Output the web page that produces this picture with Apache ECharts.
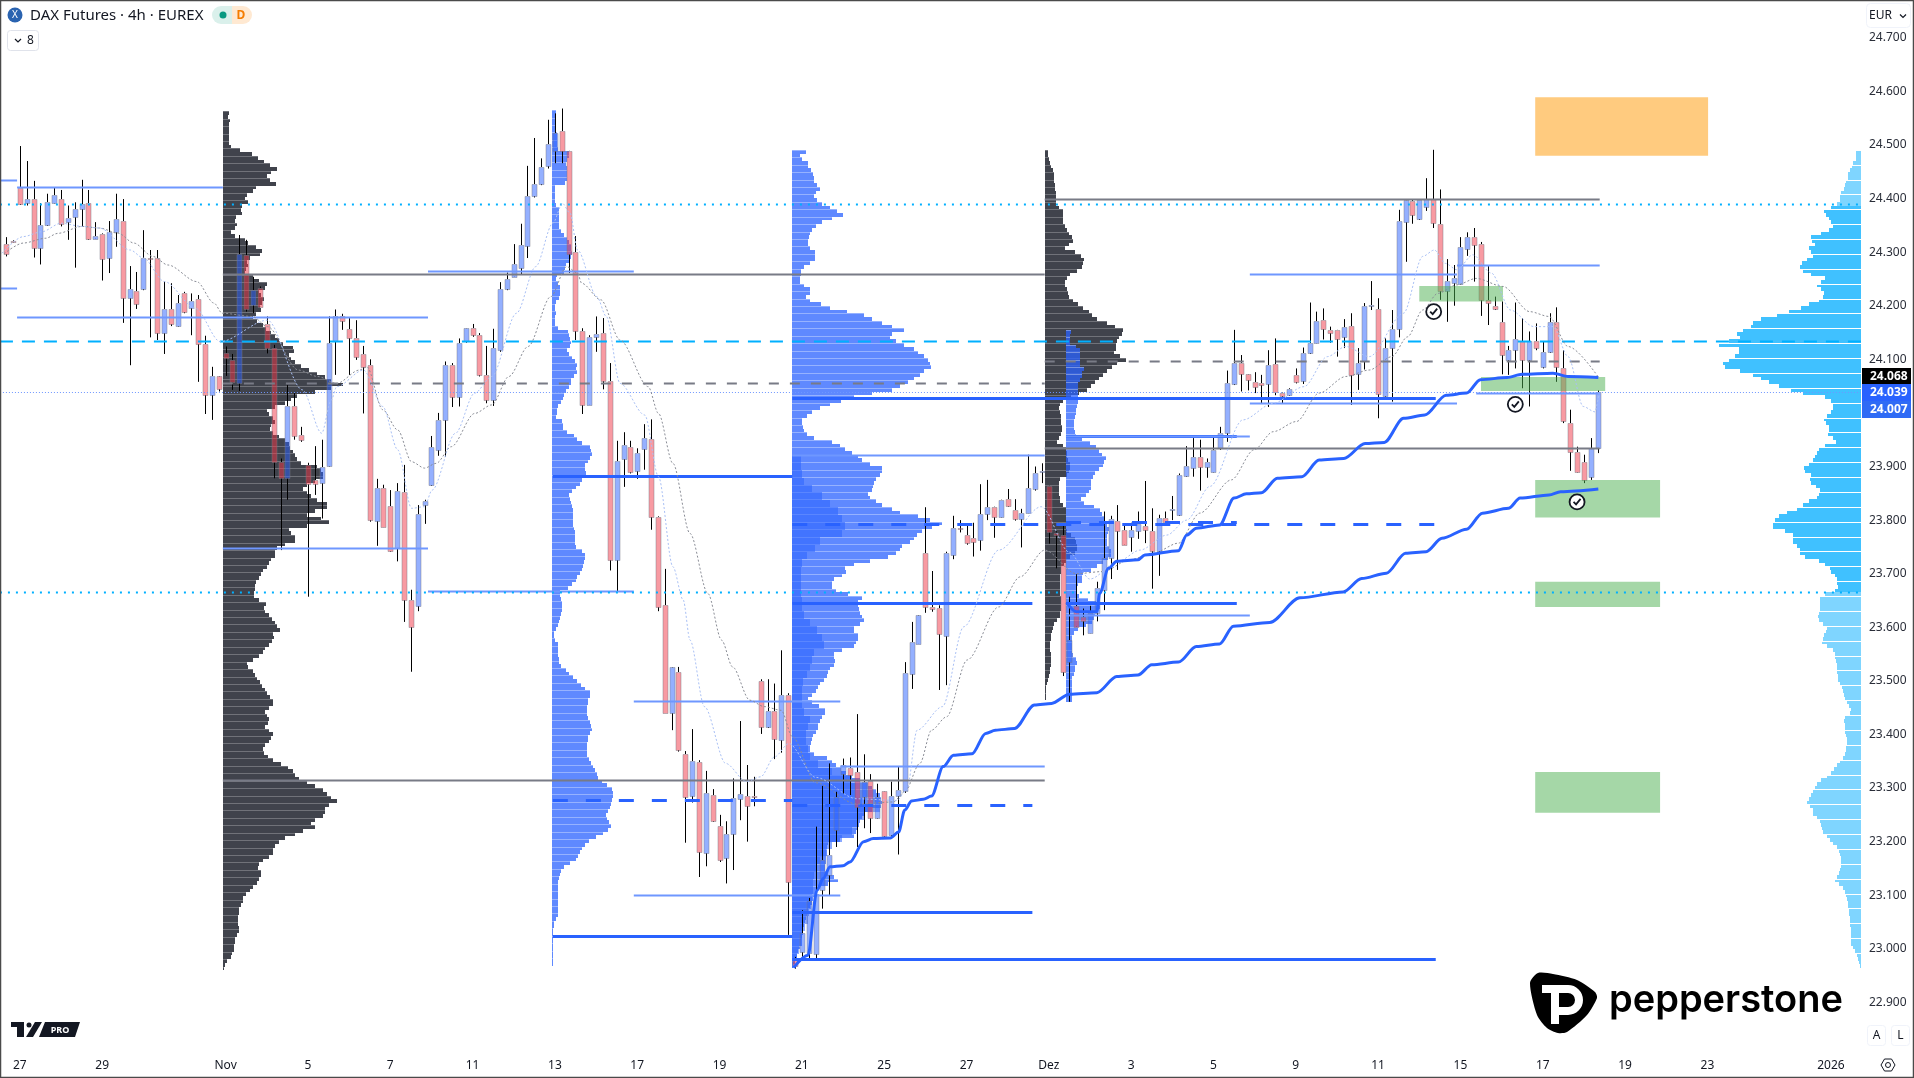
<!DOCTYPE html>
<html>
<head>
<meta charset="utf-8">
<title>DAX Futures 4h</title>
<script src="https://cdn.jsdelivr.net/npm/echarts@6/dist/echarts.min.js"></script>
<style>
  html, body { margin: 0; padding: 0; background: #fff; }
  #chart { width: 1914px; height: 1078px; }
</style>
</head>
<body>
<div id="chart"></div>
<script>
// 4h candles, one row per bar: open, high, low, close
const candles = [
[24315,24328,24292,24297],[24320,24322,24318,24319],[24420,24498,24388,24390],[24392,24470,24387,24399],[24399,24433,24290,24307],[24308,24391,24277,24350],[24350,24409,24349,24393],[24392,24421,24391,24406],[24400,24416,24348,24353],[24356,24387,24323,24363],
[24365,24393,24271,24380],[24381,24435,24347,24389],[24391,24416,24323,24324],[24325,24356,24325,24331],[24333,24335,24247,24287],[24289,24358,24261,24338],[24337,24409,24310,24361],[24358,24399,24168,24215],[24215,24274,24089,24231],[24227,24263,24194,24204],
[24231,24341,24229,24289],[24290,24304,24141,24289],[24289,24304,24136,24150],[24150,24245,24110,24193],[24193,24242,24162,24165],[24162,24220,24161,24205],[24223,24226,24186,24189],[24195,24223,24145,24209],[24212,24220,24058,24129],[24129,24144,23998,24033],
[24033,24086,23987,24068],[24068,24068,24040,24045],[24112,24124,24069,24102],[24099,24110,24043,24057],[24055,24332,24041,24296],[24295,24323,24189,24193],[24201,24254,24186,24229],[24233,24236,24198,24198],[24166,24180,24111,24122],[24122,24127,23878,23909],
[23909,23915,23744,23878],[23878,24052,23838,24012],[24012,24037,23950,23957],[23959,23974,23946,23950],[23903,23907,23657,23867],[23875,23938,23847,23867],[23870,23950,23803,23900],[23901,24180,23900,24130],[24135,24193,24071,24180],[24180,24185,24155,24172],
[24156,24177,24071,24140],[24139,24173,24099,24104],[24110,24125,23999,24085],[24089,24100,23797,23800],[23799,23877,23752,23859],[23859,23866,23787,23788],[23826,23856,23741,23743],[23747,23869,23723,23854],[23852,23903,23610,23650],[23650,23670,23517,23600],
[23640,23828,23630,23811],[23828,23838,23793,23836],[23866,23957,23864,23936],[23931,24000,23920,23987],[23987,24096,23918,24089],[24089,24093,24011,24030],[24030,24139,24012,24130],[24135,24158,24131,24158],[24158,24166,24142,24145],[24145,24149,24068,24071],
[24071,24125,24018,24024],[24024,24157,24013,24121],[24118,24244,24114,24231],[24231,24262,24229,24249],[24254,24315,24254,24278],[24270,24353,24259,24313],[24312,24461,24289,24405],[24404,24513,24402,24427],[24427,24475,24425,24458],[24461,24547,24456,24502],
[24488,24559,24466,24522],[24526,24568,24466,24488],[24488,24489,24261,24297],[24300,24330,24136,24152],[24153,24158,23998,24015],[24015,24145,24015,24142],[24142,24180,24114,24147],[24149,24177,24044,24060],[24060,24093,23706,23726],[23726,23948,23667,23910],
[23914,23964,23862,23940],[23936,23948,23887,23889],[23891,23934,23877,23926],[23933,23979,23894,23953],[23951,23988,23782,23805],[23805,23807,23630,23638],[23641,23709,23440,23440],[23440,23525,23408,23525],[23516,23526,23368,23371],[23363,23369,23198,23284],
[23285,23410,23273,23350],[23348,23352,23134,23181],[23179,23332,23154,23290],[23287,23298,23237,23239],[23229,23250,23162,23166],[23169,23238,23122,23214],[23215,23318,23147,23282],[23280,23425,23240,23288],[23286,23343,23200,23266],[23285,23321,23266,23283],
[23500,23503,23401,23413],[23414,23503,23412,23444],[23444,23495,23354,23391],[23389,23557,23366,23473],[23473,23477,23026,23125],[22979,22985,22963,22968],[22995,23072,22985,23030],[22992,23095,22979,23090],[22991,23228,22982,23103],[23109,23304,23075,23165],
[23137,23346,23100,23175],[23221,23293,23190,23283],[23326,23355,23290,23343],[23338,23357,23287,23325],[23330,23438,23190,23265],[23284,23363,23225,23312],[23313,23326,23216,23245],[23245,23308,23243,23284],[23294,23294,23209,23210],[23212,23312,23210,23286],
[23285,23340,23176,23296],[23295,23535,23291,23514],[23513,23610,23485,23572],[23569,23622,23569,23622],[23738,23824,23627,23638],[23637,23705,23629,23634],[23636,23641,23483,23588],[23584,23741,23492,23739],[23735,23808,23727,23785],[23786,23800,23777,23785],
[23772,23789,23754,23758],[23767,23795,23732,23760],[23762,23867,23743,23811],[23812,23875,23800,23825],[23824,23825,23767,23806],[23806,23838,23805,23838],[23839,23858,23825,23827],[23819,23839,23799,23802],[23802,23821,23749,23813],[23814,23922,23813,23859],
[23858,23900,23855,23887],[23889,23906,23869,23891],[23864,23864,23756,23777],[23775,23779,23710,23772],[23772,23794,23509,23517],[23536,23657,23461,23576],[23639,23699,23601,23601],[23620,23635,23585,23611],[23590,23640,23589,23626],[23626,23685,23611,23673],
[23670,23816,23632,23729],[23729,23808,23690,23802],[23798,23828,23707,23780],[23781,23794,23754,23754],[23769,23795,23741,23781],[23780,23816,23765,23792],[23789,23873,23757,23781],[23780,23822,23672,23743],[23743,23810,23696,23803],[23803,23816,23790,23797],
[23818,23845,23800,23820],[23810,23887,23808,23885],[23882,23938,23881,23901],[23898,23953,23881,23917],[23917,23950,23855,23900],[23900,23915,23879,23908],[23890,23956,23889,23931],[23934,23974,23931,23963],[23963,24079,23946,24055],[24054,24155,24052,24094],
[24093,24108,24040,24073],[24072,24072,24042,24062],[24057,24076,24037,24049],[24055,24071,24018,24053],[24054,24117,24011,24089],[24091,24139,24033,24039],[24038,24038,24018,24032],[24033,24046,24032,24044],[24071,24083,24055,24058],[24060,24122,24054,24111],
[24112,24206,24110,24130],[24131,24189,24130,24172],[24173,24195,24137,24157],[24155,24161,24131,24150],[24154,24155,24105,24137],[24141,24175,24121,24161],[24163,24186,24015,24071],[24073,24121,24043,24094],[24096,24205,24081,24199],[24200,24246,24192,24201],
[24193,24214,23990,24035],[24032,24139,24030,24121],[24122,24192,24021,24156],[24157,24379,24141,24359],[24357,24397,24282,24397],[24396,24399,24353,24369],[24362,24399,24360,24397],[24385,24438,24377,24399],[24400,24491,24345,24355],[24352,24417,24211,24228],
[24228,24287,24170,24246],[24242,24276,24200,24251],[24241,24328,24239,24309],[24305,24337,24293,24328],[24329,24345,24245,24314],[24315,24319,24181,24211],[24211,24274,24164,24205],[24200,24217,24192,24193],[24169,24208,24072,24109],[24099,24125,24071,24117],
[24117,24206,24083,24137],[24134,24177,24046,24098],[24099,24152,24012,24134],[24134,24167,24117,24121],[24085,24133,24083,24113],[24114,24186,24112,24169],[24169,24197,24058,24085],[24083,24117,23981,23984],[23982,24006,23892,23928],[23928,23937,23889,23890],
[23908,23922,23869,23875],[23881,23953,23875,23934],[23934,24042,23925,24039]
]

// tick labels
const priceTicks = [22900,23000,23100,23200,23300,23400,23500,23600,23700,23800,23900,24000,24100,24200,24300,24400,24500,24600,24700]
const dateTickBars = [2,14,32,44,56,68,80,92,104,116,128,140,152,164,176,188,200,212,224,236,248,266]
const dateTickLabels = ['27','29','Nov','5','7','11','13','17','19','21','25','27','Dez','3','5','9','11','15','17','19','23','2026']

// volume profiles, one value per price row from the top down
const volNov1 = [6,5,7,6,6,6,6,6,6,8,17,29,35,41,47,54,48,44,47,53,33,30,24,22,25,19,18,19,13,12,14,12,8,12,22,25,33,39,37,27,24,25,23,22,30,36,44,42,36,38,41,39,37,38,33,30,34,40,43,48,52,56,60,70,71,66,68,72,78,86,94,102,108,120,108,92,74,68,62,52,44,46,50,52,48,47,50,56,62,66,67,70,72,74,78,94,98,100,100,92,84,80,84,88,94,104,104,92,84,98,106,84,66,68,72,72,62,54,52,52,48,46,44,40,38,36,33,32,32,31,31,
36,43,41,42,46,49,52,54,57,50,51,49,46,42,40,36,30,24,25,30,32,34,37,39,42,44,47,50,50,46,42,44,46,45,42,46,50,48,46,42,40,41,45,50,58,65,70,72,76,84,92,100,104,108,114,106,102,102,100,92,88,92,80,72,62,56,52,50,50,46,40,36,35,38,38,36,34,30,27,23,20,20,18,16,16,15,15,15,16,16,14,12,12,11,11,9,8,4,2,1]
const volNov13 = [4,4,4,4,4,4,5,5,5,5,6,17,17,15,14,15,15,15,15,13,3,3,3,3,3,4,7,7,7,7,7,7,9,12,15,17,19,19,20,19,17,14,13,12,5,4,6,8,8,8,7,4,3,3,4,3,3,3,6,16,17,18,19,18,15,17,20,23,25,24,25,22,19,19,17,14,12,11,9,6,5,5,4,10,11,11,15,22,25,30,38,39,40,38,36,33,33,34,36,30,28,24,20,17,18,19,20,21,21,21,21,21,22,23,23,23,23,24,30,33,33,32,31,30,28,25,24,20,16,
8,8,9,10,10,10,9,8,7,6,4,2,2,3,6,6,6,6,7,7,9,14,17,21,25,29,33,38,38,36,36,35,35,35,36,38,39,40,38,36,36,35,35,35,35,37,39,41,43,45,46,50,55,60,61,61,60,59,58,56,54,55,57,59,56,51,44,37,33,30,28,26,24,18,12,9,8,7,6,6,6,6,6,6,6,6,6,6,4,2,1.5,1,1,1,1,1,1,1,1,1,1]
const volNov21 = [14,8,10,16,16,19,21,22,22,25,28,24,22,25,30,38,45,51,40,30,24,20,18,17,16,16,18,23,23,23,18,12,9,9,8,8,12,18,18,14,18,29,38,55,72,80,90,100,112,100,98,104,112,122,126,132,136,138,139,132,128,122,116,108,100,80,62,49,38,28,20,15,10,10,11,12,15,22,40,48,53,60,66,70,78,90,90,88,84,82,81,80,76,78,84,90,100,108,126,138,150,140,130,125,122,118,110,108,104,96,78,62,53,54,50,42,40,40,44,56,
70,66,66,67,68,70,72,68,62,62,66,66,64,62,50,42,42,43,42,38,36,35,32,28,26,24,20,16,20,27,33,33,30,28,26,26,24,21,20,19,18,18,22,35,40,44,49,54,60,68,76,80,84,88,89,90,89,80,72,70,68,67,66,64,62,48,36,35,35,35,34,34,33,33,36,42,46,36,26,24,22,21,20,18,16,15,14,13,12,11,11,10,10,10,8,6,5,5,3,1]
const volNov21Inner = [9,9,10,12,20,30,38,46,50,53,50,28,23,15,10,9,9,9,9,10,10,12,18,25,30,32,22,20,18,15,11,10,10,10,12,18,16,14,14,16,18,26,40,58,64,64,70,88,72,66,60,50,40,34,28,24,22,21,21,20,19,17,16,13,10,9,7,5,3]
const volDec1 = [3,3,4,5,6,8,9,9,9,10,10,11,11,11,11,14,18,18,18,18,20,22,24,27,28,24,20,30,36,39,38,37,32,25,22,20,20,22,23,24,28,33,38,44,47,52,62,70,78,77,74,72,71,71,69,75,81,72,67,62,58,54,50,46,42,34,26,18,15,14,15,16,16,16,17,17,16,14,12,18,21,22,22,23,25,25,24,22,15,
14,14,14,14,15,15,18,21,21,21,21,21,21,22,26,30,31,32,32,30,25,21,19,16,16,15,15,15,15,15,15,16,16,16,16,15,15,12,9,8,7,6,6,5,5,5,6,6,6,6,5,5,4,3,2,1,1,1,1]
const volDec2 = [5,4,4,4,10,14,14,14,14,14,18,16,16,14,12,12,12,12,12,12,11,10,10,9,8,8,8,9,10,16,24,30,33,36,40,38,37,33,29,27,25,25,25,23,20,15,18,28,34,36,38,39,41,43,42,41,41,41,43,45,45,42,37,31,25,17,16,16,12,11,11,13,22,30,34,31,29,28,26,20,12,8,6,6,6,6,6,7,10,11,9,9,8,6,6,6,6,6,6,6]
const volSession = [5,5,5,8,9,11,13,13,15,16,17,20,21,21,24,30,37,35,32,30,28,32,40,50,49,46,52,50,48,54,59,61,58,50,36,40,44,40,37,38,42,52,60,72,84,100,108,110,118,124,121,132,142,122,122,126,132,138,136,121,108,100,92,82,70,58,36,30,28,28,30,34,37,35,32,32,33,28,25,36,42,44,46,48,52,57,56,50,51,50,45,41,42,44,
52,58,64,74,82,86,88,88,76,68,68,68,64,61,61,56,42,36,31,30,26,24,24,23,26,36,41,41,41,41,42,43,42,38,34,35,37,38,39,34,28,26,26,25,24,24,24,23,23,21,19,18,17,16,14,12,10,11,16,17,16,16,16,15,14,14,15,15,16,18,21,24,27,30,34,40,44,46,48,50,52,54,51,48,48,44,41,40,39,38,34,31,28,24,22,21,20,20,20,21,22,24,26,22,18,16,15,14,13,13,12,12,11,11,11,10,10,10,10,10,8,6,4,3,2,1]

// moving averages as [bar, price]
const maSlow = [[-0.3,24297],[2.5,24317],[5.8,24326],[7.5,24335],[11.1,24348],[13.6,24345],[16.4,24335],[18.6,24317],[21.4,24292],[23.6,24276],[27.8,24245],[30.3,24205],[31.5,24186],[35.9,24180],[38.1,24161],[42.6,24080],[45.4,24068],[48.2,24055],[51.5,24080],[52.6,24086],[54.9,24006],[57.1,23968],[59.1,23909],[61,23897],[62.7,23906],[64.9,23937],[68.3,23999],[70.8,24015],[73.3,24068],[76.1,24124],[79.4,24217],[81.7,24273],[83.3,24261],[83.9,24242],[86.7,24211],[89.5,24136],[93.6,24049],[95.1,23999],[97.2,23906],[99.7,23775],[102.3,23663],[104.3,23576],[105.9,23526],[108.4,23464],[110.5,23452],[113,23445],[114.6,23396],[118,23310],[124,23270],[129.3,23274],[131,23293],[133.2,23346],[134.9,23408],[137.1,23433],[140.1,23539],[144.7,23638],[147.8,23694],[151.4,23744],[156,23700],[159.9,23704],[163.8,23726],[167.2,23738],[170.9,23757],[174,23813],[178.6,23875],[181.9,23931],[184.7,23965],[188.1,23984],[191.4,24037],[195.3,24068],[198.7,24080],[202,24105],[204.3,24142],[206.5,24192],[208.7,24223],[211.5,24239],[214.3,24251],[218.2,24236],[222.1,24189],[224.9,24180],[227.7,24124],[232.2,24065]]
const maFast = [[-0.6,24298],[2.5,24329],[5.2,24338],[8,24354],[11.1,24348],[13.6,24345],[18.1,24304],[20,24289],[23.1,24245],[27.6,24195],[31.2,24133],[38.1,24173],[43.2,24043],[46,23962],[47.4,24024],[48.2,24049],[52.1,24080],[54.9,24012],[57.1,23931],[59.1,23822],[61,23825],[62.1,23856],[65.5,23962],[68.3,24037],[70.8,24068],[74.4,24186],[77.2,24273],[79.7,24354],[81.1,24391],[82.2,24373],[83.3,24304],[86.1,24217],[87.5,24180],[89.5,24055],[93.1,23996],[95.1,23881],[97.2,23713],[98.7,23651],[99.7,23576],[101.8,23452],[104.9,23346],[107.9,23312],[110,23321],[112,23358],[114.1,23383],[118,23320],[124,23280],[129.8,23277],[131.3,23296],[132.8,23408],[136.5,23452],[139.6,23601],[144.7,23744],[150.9,23825],[155,23740],[158,23690],[162.1,23723],[165.3,23744],[169.2,23772],[172.1,23800],[175.5,23863],[180.3,23987],[184.7,24018],[189.2,24049],[192.6,24105],[195.3,24124],[198.7,24105],[203.7,24186],[206.5,24292],[208.2,24304],[209.8,24279],[211.5,24267],[213.8,24295],[216.5,24261],[219.3,24192],[222.7,24161],[225.5,24161],[227.7,24105],[229.9,24012],[231.6,24002],[232.2,24037]]

// anchored vwaps as [bar, price]
const vwapLower = [[114.8,22965],[116.9,22988],[118.2,23109],[119.1,23131],[120.1,23153],[122,23155],[123,23162],[125,23200],[126.4,23206],[128.9,23207],[130.1,23218],[131,23259],[132,23276],[133.7,23279],[134.9,23285],[136.6,23340],[138.1,23361],[140.8,23364],[142.8,23402],[144.2,23408],[147,23411],[149.9,23455],[152.4,23458],[155,23475],[159,23478],[161.9,23508],[165,23511],[167,23530],[170.9,23535],[173.5,23564],[176.9,23569],[178.9,23602],[184.2,23609],[188.6,23655],[194.9,23666],[197.6,23691],[201.2,23701],[204,23738],[207,23741],[209.3,23766],[212.9,23783],[215.2,23813],[219,23822],[220.7,23841],[224.9,23847],[226.6,23853],[232.1,23858]]
const vwapUpper = [[154.6,23646],[156,23629],[159,23629],[159.4,23663],[160.7,23710],[161.9,23723],[165,23726],[166,23735],[170.9,23743],[172.1,23772],[173.5,23785],[176.9,23791],[179,23841],[180.8,23849],[183,23851],[185.3,23878],[188.9,23881],[191.4,23912],[195,23915],[198.1,23943],[200.9,23945],[203.7,23990],[206.8,23996],[209.9,24033],[212.9,24037],[214.9,24062],[218.8,24066],[221,24072],[225.5,24074],[227.7,24068],[232.1,24066]]

// horizontal levels: from bar, to bar, price, kind
const levels = [
[-0.9,1.6,24435,'light'],[-0.9,1.6,24233,'light'],[1.6,31.6,24422,'light'],[1.6,61.5,24179,'light'],[31.6,61.5,23748,'light'],[61.5,91.5,23668,'light'],[61.5,91.5,24265,'light'],
[31.6,151.4,24260,'gray'],[31.6,151.4,24056,'grayDash'],[31.6,151.4,23315,'gray'],
[79.7,114.6,23882,'strong'],[114.6,208.4,24028,'strong'],[154.5,179.4,23957,'strong'],[114.6,149.6,23645,'strong'],[154.5,179.4,23645,'strong'],[114.6,149.6,23068,'strong'],[79.7,114.6,23024,'strong'],[114.6,208.4,22981,'strong'],
[114.6,151.4,23921,'light'],[154.5,181.3,23957,'light'],[181.3,211.5,24260,'light'],[211.5,232.3,24276,'light'],[181.3,211.5,24019,'light'],[214.3,232.3,24037,'light'],[91.5,121.6,23462,'light'],[121.6,151.4,23341,'light'],[91.5,121.6,23100,'light'],[154.5,181.3,23623,'light'],
[151.4,232.3,24399,'gray'],[151.4,232.3,24097,'grayDash'],[151.4,232.3,23935,'gray'],
[79.7,114.6,23278,'strongDash'],[114.6,149.6,23268,'strongDash'],[114.6,208.4,23793,'strongDash'],[154.5,179.4,23797,'strongDash'],
[-0.9,270.4,24390,'cyanDot'],[-0.9,270.4,24134,'cyanDash'],[-0.9,270.4,23666,'cyanDot'],[-0.9,270.4,24039,'priceDot']
]

// zones: from bar, to bar, top price, bottom price, kind
const zones = [
[222.9,248.1,24589,24480,'orange'],[222.9,241.1,23875,23805,'green'],[222.9,241.1,23685,23638,'green'],[222.9,241.1,23330,23254,'green'],[206,218.2,24237,24208,'green'],[215,233.1,24067,24041,'green']
]

// check marks as [bar, price]
const checks = [[208.1,24189],[220,24016],[229,23834]]

const rowStep = 6.94
const barPx = 6.86
const levelStyles = {
  gray: { stroke: '#787b86', lineWidth: 2 },
  grayDash: { stroke: '#787b86', lineWidth: 2, lineDash: [10, 11] },
  light: { stroke: '#6f97ff', lineWidth: 2 },
  strong: { stroke: '#2962ff', lineWidth: 3 },
  strongDash: { stroke: '#2962ff', lineWidth: 3, lineDash: [15, 18] },
  cyanDot: { stroke: '#00b0ff', lineWidth: 2, lineDash: [2, 6] },
  cyanDash: { stroke: '#00b0ff', lineWidth: 2, lineDash: [13, 9] },
  priceDot: { stroke: '#6f97ff', lineWidth: 1, lineDash: [1, 2] }
}
const zoneColors = { orange: 'rgba(255,152,0,0.5)', green: 'rgba(76,175,80,0.5)' }

// one custom series per profile, rows grow right from the anchor or left for the session one
const profileSeries = (volumes, topPrice, anchor, opts) => ({
  type: 'custom',
  silent: true,
  animation: false,
  z: opts.z || 2,
  clip: true,
  data: volumes.map((v, i) => [topPrice - i * opts.step, v]),
  renderItem: (params, api) => {
    const price = api.value(0)
    const vol = api.value(1)
    const dir = opts.dir || 1
    const a = api.coord([anchor, price])
    const b = api.coord([anchor + dir * vol / barPx, price - opts.step])
    const top = Math.round(a[1])
    const bottom = Math.round(b[1])
    const left = Math.round(Math.min(a[0], b[0]))
    const width = Math.max(1, Math.round(Math.abs(b[0] - a[0])))
    let fill = opts.color
    if (opts.outerColor && (price > 24392 || price < 23666)) fill = opts.outerColor
    const children = [{ type: 'rect', shape: { x: left, y: top, width, height: bottom - top }, style: { fill } }]
    if (opts.sepEvery && params.dataIndex % opts.sepEvery === 0) {
      children.push({ type: 'rect', shape: { x: left, y: top, width, height: 1 }, style: { fill: opts.sepColor } })
    }
    return { type: 'group', children }
  }
})

const candleSeries = {
  type: 'custom',
  silent: true,
  animation: false,
  z: 3,
  data: candles.map((c, i) => [i, c[0], c[1], c[2], c[3]]),
  renderItem: (params, api) => {
    const bar = api.value(0)
    const open = api.value(1)
    const close = api.value(4)
    const x = Math.round(api.coord([bar, open])[0])
    const yHigh = api.coord([bar, api.value(2)])[1]
    const yLow = api.coord([bar, api.value(3)])[1]
    const yTop = Math.round(api.coord([bar, Math.max(open, close)])[1])
    const yBottom = Math.round(api.coord([bar, Math.min(open, close)])[1])
    const up = close >= open
    const wick = { stroke: '#000', lineWidth: 1 }
    return {
      type: 'group',
      children: [
        // wick stops at the body so the pale fill stays clean
        { type: 'line', shape: { x1: x + 0.5, y1: yHigh, x2: x + 0.5, y2: yTop }, style: wick },
        { type: 'line', shape: { x1: x + 0.5, y1: yBottom, x2: x + 0.5, y2: yLow }, style: wick },
        {
          type: 'rect',
          shape: { x: x - 2, y: yTop + 0.5, width: 5, height: Math.max(1, yBottom - yTop) },
          style: { fill: up ? 'rgba(41,98,255,0.5)' : 'rgba(242,54,69,0.5)', stroke: 'rgba(120,123,134,0.45)', lineWidth: 1 }
        }
      ]
    }
  }
}

const levelSeries = {
  type: 'custom',
  silent: true,
  animation: false,
  z: 4,
  data: levels.map((row) => [row[0], row[1], row[2]]),
  renderItem: (params, api) => {
    const row = levels[params.dataIndex]
    const a = api.coord([row[0], row[2]])
    const b = api.coord([row[1], row[2]])
    const y = Math.round(a[1]) + 0.5
    return { type: 'line', shape: { x1: a[0], y1: y, x2: b[0], y2: y }, style: levelStyles[row[3]] }
  }
}

const zoneSeries = {
  type: 'custom',
  silent: true,
  animation: false,
  z: 4,
  data: zones.map((row) => [row[0], row[1], row[2], row[3]]),
  renderItem: (params, api) => {
    const row = zones[params.dataIndex]
    const a = api.coord([row[0], row[2]])
    const b = api.coord([row[1], row[3]])
    return { type: 'rect', shape: { x: a[0], y: a[1], width: b[0] - a[0], height: b[1] - a[1] }, style: { fill: zoneColors[row[4]] } }
  }
}

const checkSeries = {
  type: 'custom',
  silent: true,
  animation: false,
  z: 6,
  data: checks,
  renderItem: (params, api) => {
    const p = api.coord([api.value(0), api.value(1)])
    return {
      type: 'group',
      children: [
        { type: 'circle', shape: { cx: p[0], cy: p[1], r: 7.5 }, style: { fill: '#fff', stroke: '#131722', lineWidth: 1.8 } },
        { type: 'polyline', shape: { points: [[p[0] - 3.5, p[1]], [p[0] - 1, p[1] + 2.5], [p[0] + 3.5, p[1] - 3]] }, style: { fill: 'none', stroke: '#131722', lineWidth: 1.8 } }
      ]
    }
  }
}

const lineSeries = (data, color, width, type, z) => ({
  type: 'line',
  data,
  silent: true,
  animation: false,
  showSymbol: false,
  smooth: 0.3,
  smoothMonotone: 'x',
  z,
  lineStyle: { color, width, type }
})

const uiFont = '"Noto Sans"'

const txt = (text, x, y, extra) => ({
  type: 'text',
  z: 20,
  style: Object.assign({ text, x, y, fill: '#131722', font: '12px ' + uiFont, textVerticalAlign: 'middle' }, extra)
})

const boxBg = (x, y, width, height, fill, stroke, r) => ({
  type: 'rect',
  z: 19,
  shape: { x, y, width, height, r: r || 0 },
  style: { fill, stroke: stroke || 'none', lineWidth: 1 }
})

const chevron = (cx, cy) => ({
  type: 'polyline',
  z: 20,
  shape: { points: [[cx - 3, cy - 1.5], [cx, cy + 1.5], [cx + 3, cy - 1.5]] },
  style: { fill: 'none', stroke: '#131722', lineWidth: 1.2 }
})

const poly = (points, fill) => ({ type: 'polygon', z: 20, shape: { points }, style: { fill } })

const overlays = [
  // window frame
  { type: 'rect', z: 30, shape: { x: 0.5, y: 0.5, width: 1913, height: 1077 }, style: { fill: 'none', stroke: '#4a4a4a', lineWidth: 1.5 } },
  // legend line
  { type: 'circle', z: 19, shape: { cx: 15, cy: 15, r: 7.5 }, style: { fill: '#2a63b0' } },
  txt('X', 15, 15, { fill: '#fff', font: '10px ' + uiFont, textAlign: 'center' }),
  txt('DAX Futures · 4h · EUREX', 30, 15.5, { font: '15px ' + uiFont }),
  { type: 'circle', z: 19, shape: { cx: 221, cy: 15, r: 9 }, style: { fill: '#daf0eb' } },
  { type: 'circle', z: 19, shape: { cx: 243, cy: 15, r: 9 }, style: { fill: '#ffe9d2' } },
  boxBg(221, 6, 11, 18, '#daf0eb', null, 0),
  boxBg(232, 6, 11, 18, '#ffe9d2', null, 0),
  { type: 'circle', z: 20, shape: { cx: 223, cy: 15, r: 3.5 }, style: { fill: '#089981' } },
  txt('D', 241, 15.5, { fill: '#f57c00', font: 'bold 12px ' + uiFont, textAlign: 'center' }),
  boxBg(7.5, 30.5, 31, 20, '#fff', '#e0e3eb', 3),
  chevron(18, 40.5),
  txt('8', 27, 41),
  // right scale widgets
  boxBg(1866.5, 3.5, 44, 24, '#fff', '#f0f3fa', 4),
  txt('EUR', 1869, 16),
  chevron(1903, 16),
  boxBg(1862, 368, 49, 16, '#000'),
  txt('24.068', 1870, 376.5, { fill: '#fff', font: 'bold 12px ' + uiFont }),
  boxBg(1862, 384, 49, 17, '#2962ff'),
  txt('24.039', 1870, 392.5, { fill: '#fff', font: 'bold 12px ' + uiFont }),
  boxBg(1862, 401, 49, 17, '#2f6bf5'),
  txt('24.007', 1870, 409.5, { fill: '#fff', font: 'bold 12px ' + uiFont }),
  boxBg(1867.5, 1025.5, 18, 20, '#fff', '#f0f3fa', 3),
  txt('A', 1876.5, 1036, { textAlign: 'center', fill: '#131722' }),
  boxBg(1891.5, 1025.5, 18, 20, '#fff', '#f0f3fa', 3),
  txt('L', 1900.5, 1036, { textAlign: 'center', fill: '#131722' }),
  // settings glyph
  {
    type: 'polygon',
    z: 20,
    shape: { points: [[1881, 1065], [1884.5, 1059], [1891.5, 1059], [1895, 1065], [1891.5, 1071], [1884.5, 1071]] },
    style: { fill: 'none', stroke: '#131722', lineWidth: 1 }
  },
  { type: 'circle', z: 20, shape: { cx: 1888, cy: 1065, r: 2.5 }, style: { fill: 'none', stroke: '#131722', lineWidth: 1 } },
  // TV PRO badge
  poly([[11, 1022], [24, 1022], [24, 1037], [17, 1037], [17, 1027], [11, 1027]], '#131722'),
  { type: 'circle', z: 20, shape: { cx: 29, cy: 1025, r: 2.5 }, style: { fill: '#131722' } },
  poly([[26, 1037], [35, 1022], [42, 1022], [33, 1037]], '#131722'),
  poly([[39, 1037], [45, 1022], [80, 1022], [75, 1037]], '#131722'),
  txt('PRO', 60, 1030, { fill: '#fff', font: 'bold 9px ' + uiFont, textAlign: 'center' }),
  // broker logo
  {
    type: 'polygon',
    z: 20,
    shape: { smooth: 0.25, points: [[1530, 983], [1538, 973], [1553, 974], [1577, 980], [1595, 992], [1597, 998], [1587, 1015], [1567, 1032], [1558, 1033], [1547, 1028], [1537, 1015]] },
    style: { fill: '#000' }
  },
  { type: 'polyline', z: 21, shape: { points: [[1542, 989], [1568, 989]] }, style: { fill: 'none', stroke: '#fff', lineWidth: 8 } },
  { type: 'arc', z: 21, shape: { cx: 1568, cy: 1000, r: 11, startAngle: -Math.PI / 2, endAngle: Math.PI / 2, clockwise: true }, style: { fill: 'none', stroke: '#fff', lineWidth: 8 } },
  { type: 'polyline', z: 21, shape: { points: [[1568, 1011], [1555, 1011]] }, style: { fill: 'none', stroke: '#fff', lineWidth: 8 } },
  { type: 'polyline', z: 21, shape: { points: [[1555, 990], [1555, 1024]] }, style: { fill: 'none', stroke: '#fff', lineWidth: 8 } },
  txt('pepperstone', 1609, 1001, { fill: '#000', font: '600 38px Inter' })
]

const myChart = echarts.init(document.getElementById('chart'), null, { renderer: 'canvas' })
myChart.setOption({
  animation: false,
  backgroundColor: '#fff',
  grid: { left: 0, top: 0, width: 1861, height: 1050 },
  xAxis: {
    type: 'value',
    min: -0.889,
    max: 270.39,
    axisLine: { show: false },
    axisTick: { show: false },
    splitLine: { show: false },
    axisLabel: {
      customValues: dateTickBars,
      margin: 10,
      color: '#131722',
      fontFamily: 'Noto Sans',
      fontSize: 12,
      formatter: (v) => dateTickLabels[dateTickBars.indexOf(v)]
    }
  },
  yAxis: {
    type: 'value',
    position: 'right',
    min: 22811.2,
    max: 24770.5,
    axisLine: { show: false },
    axisTick: { show: false },
    splitLine: { show: false },
    axisLabel: {
      customValues: priceTicks,
      margin: 8,
      padding: [2, 0, 0, 0],
      color: '#2a2e39',
      fontFamily: 'Noto Sans',
      fontSize: 12,
      formatter: (v) => (v / 1000).toFixed(3)
    }
  },
  graphic: overlays,
  series: [
    profileSeries(volNov1, 24563, 31.6, { step: rowStep, sepEvery: 2, color: 'rgba(30,34,45,0.85)', sepColor: 'rgba(255,255,255,0.25)' }),
    profileSeries(volNov13, 24565, 79.6, { step: rowStep, sepEvery: 2, color: 'rgba(41,98,255,0.75)', sepColor: 'rgba(255,255,255,0.35)' }),
    profileSeries(volNov21, 24491, 114.6, { step: rowStep, sepEvery: 2, color: 'rgba(41,98,255,0.75)', sepColor: 'rgba(255,255,255,0.35)' }),
    profileSeries(volNov21Inner, 23921, 114.6, { step: rowStep * 2, color: 'rgba(41,98,255,0.55)' }),
    profileSeries(volDec1, 24491, 151.4, { step: rowStep, sepEvery: 2, color: 'rgba(30,34,45,0.85)', sepColor: 'rgba(255,255,255,0.25)' }),
    profileSeries(volDec2, 24155, 154.5, { step: rowStep, sepEvery: 2, color: 'rgba(41,98,255,0.75)', sepColor: 'rgba(255,255,255,0.35)' }),
    profileSeries(volSession, 24491, 270.39, { step: rowStep, sepEvery: 4, dir: -1, color: 'rgba(0,172,255,0.75)', outerColor: 'rgba(0,172,255,0.5)', sepColor: '#fff' }),
    candleSeries,
    zoneSeries,
    levelSeries,
    lineSeries(maSlow, '#8a8d96', 1, [2, 2], 4),
    lineSeries(maFast, '#a9c0f5', 1, [2, 2], 4),
    lineSeries(vwapLower, '#2962ff', 3, 'solid', 5),
    lineSeries(vwapUpper, '#2962ff', 3, 'solid', 5),
    checkSeries
  ]
})
</script>
</body>
</html>
